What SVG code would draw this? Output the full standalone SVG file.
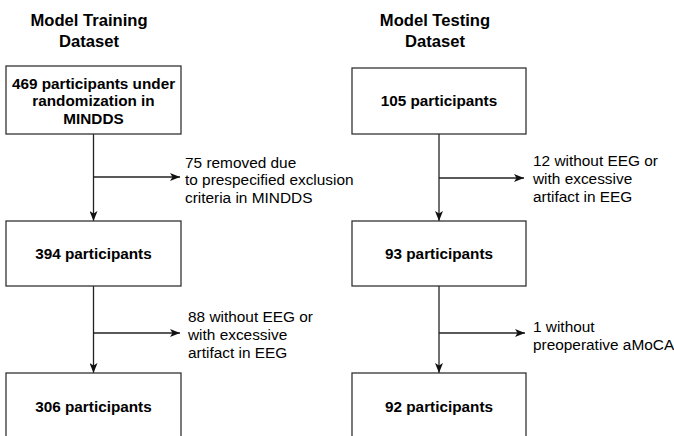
<svg xmlns="http://www.w3.org/2000/svg" width="674" height="436" viewBox="0 0 674 436">
<style>
.box{fill:#fff;stroke:#333;stroke-width:1.3}
.t{font-family:"Liberation Sans",Arial,sans-serif;font-size:15.3px;font-weight:bold;fill:#000;text-anchor:middle;dominant-baseline:central}
.h{font-family:"Liberation Sans",Arial,sans-serif;font-size:16.6px;font-weight:bold;fill:#000;text-anchor:middle;dominant-baseline:central}
.l{font-family:"Liberation Sans",Arial,sans-serif;font-size:15.4px;fill:#000;dominant-baseline:central}
.c{fill:none;stroke:#222;stroke-width:1.3}
</style>
<defs>
<marker id="ah" viewBox="0 0 10 8" refX="10" refY="4" markerWidth="10" markerHeight="8" markerUnits="userSpaceOnUse" orient="auto">
<path d="M0,0 L10,4 L0,8 L2.5,4 z" fill="#111"/>
</marker>
</defs>
<rect width="674" height="436" fill="#fff"/>
<g id="title-training"><text class="h" x="89" y="20">Model Training</text><text class="h" x="89" y="41">Dataset</text></g>
<g id="title-testing"><text class="h" x="435" y="20">Model Testing</text><text class="h" x="435" y="41">Dataset</text></g>
<g id="connectors">
<path class="c" d="M93.5,134 V221" marker-end="url(#ah)"/>
<path class="c" d="M93.5,177 H180" marker-end="url(#ah)"/>
<path class="c" d="M93.5,286 V373" marker-end="url(#ah)"/>
<path class="c" d="M93.5,333 H180" marker-end="url(#ah)"/>
<path class="c" d="M439,134 V221" marker-end="url(#ah)"/>
<path class="c" d="M439,178 H524" marker-end="url(#ah)"/>
<path class="c" d="M439,286 V373" marker-end="url(#ah)"/>
<path class="c" d="M439,333 H525" marker-end="url(#ah)"/>
</g>
<g id="n469"><rect class="box" x="6" y="66" width="175" height="68"/><text class="t" x="93.5" y="83">469 participants under</text><text class="t" x="93.5" y="100">randomization in</text><text class="t" x="93.5" y="118">MINDDS</text></g>
<g id="n394"><rect class="box" x="6" y="221" width="175" height="65"/><text class="t" x="93.5" y="253">394 participants</text></g>
<g id="n306"><rect class="box" x="6" y="373" width="175" height="70"/><text class="t" x="93.5" y="406">306 participants</text></g>
<g id="n105"><rect class="box" x="352" y="68" width="174" height="66"/><text class="t" x="439" y="100">105 participants</text></g>
<g id="n93"><rect class="box" x="352" y="221" width="174" height="65"/><text class="t" x="439" y="253">93 participants</text></g>
<g id="n92"><rect class="box" x="352" y="373" width="174" height="70"/><text class="t" x="439" y="406">92 participants</text></g>
<g id="lbl-75"><text class="l" x="185" y="162">75 removed due</text><text class="l" x="185" y="179.5">to prespecified exclusion</text><text class="l" x="185" y="197">criteria in MINDDS</text></g>
<g id="lbl-88"><text class="l" x="188" y="316">88 without EEG or</text><text class="l" x="188" y="334">with excessive</text><text class="l" x="188" y="352">artifact in EEG</text></g>
<g id="lbl-12"><text class="l" x="533" y="160">12 without EEG or</text><text class="l" x="533" y="178">with excessive</text><text class="l" x="533" y="196">artifact in EEG</text></g>
<g id="lbl-1"><text class="l" x="533" y="326">1 without</text><text class="l" x="533" y="344">preoperative aMoCA</text></g>
</svg>
